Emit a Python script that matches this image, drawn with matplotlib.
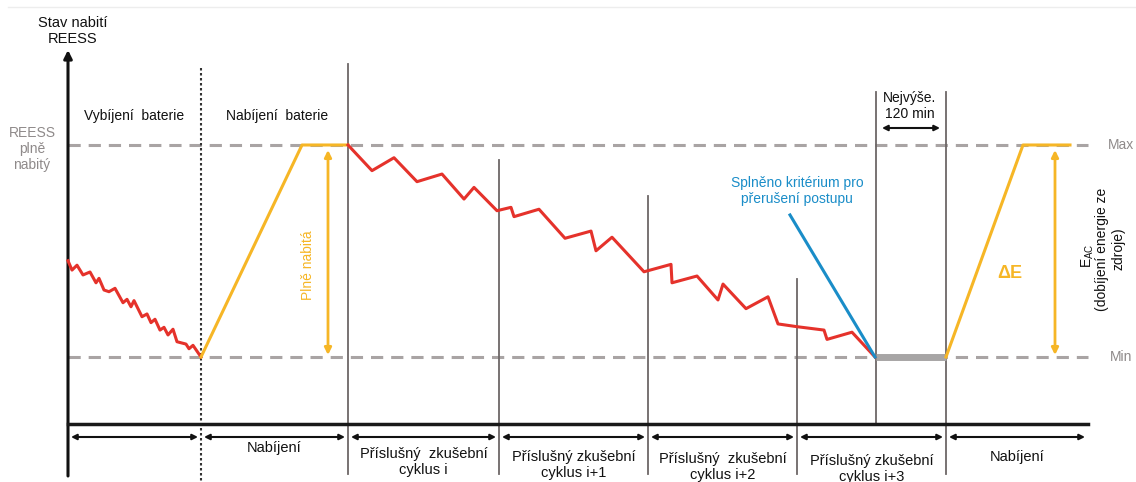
import matplotlib.pyplot as plt

plt.rcParams['font.family'] = ['Liberation Sans', 'DejaVu Sans']

# time axis in arbitrary units, state of charge: 0 = Min, 100 = Max
dis_t = [0, 4, 9, 15, 22, 28, 31, 36, 41, 47, 55, 59, 63, 66, 74, 79, 83, 87,
         92, 96, 100, 105, 109, 118, 121, 125, 133]
dis_soc = [45.4, 41.0, 43.3, 38.7, 40.1, 35.0, 37.1, 31.6, 30.8, 32.4, 25.6,
           27.2, 23.7, 26.6, 19.0, 20.3, 16.2, 17.8, 12.7, 14.0, 10.4, 13.1,
           7.2, 6.1, 3.9, 5.5, 0]

chg1_t = [133, 234, 280]
chg1_soc = [0, 100, 100]

cyc_t = [280, 304, 326, 349, 374, 396, 406, 429, 443, 446, 471, 497, 523, 528,
         544, 576, 603, 604, 629, 650, 655, 678, 700, 710, 729, 756, 759, 784, 807]
cyc_soc = [100, 87.9, 94.0, 82.7, 86.3, 74.5, 80.0, 69.0, 70.6, 66.2, 69.7,
           56.0, 59.4, 50.1, 56.5, 40.2, 43.7, 35.0, 38.2, 26.9, 34.4, 22.8,
           28.4, 15.6, 14.3, 12.7, 8.3, 11.7, 0]

rest_t = [808, 878]
rest_soc = [0, 0]

chg2_t = [878, 955, 1002]
chg2_soc = [0, 100, 100]

crit_t = [722, 807]
crit_soc = [67, 0]

# phase boundaries (time) and the level where each line starts
bounds = [280, 431, 580, 729, 808, 878]
bound_top = [138, 93, 76, 37, 125, 125]

seg_edges = [0, 133, 280, 431, 580, 729, 878, 1020]
seg_labels = ['', 'Nabíjení', 'Příslušný  zkušební\ncyklus i',
              'Příslušný zkušební\ncyklus i+1', 'Příslušný  zkušební\ncyklus i+2',
              'Příslušný zkušební\ncyklus i+3', 'Nabíjení']

RED = '#e5322b'
YEL = '#f6b626'
BLUE = '#1a8dc8'
GRAY = '#a9a4a4'
LGRAY = '#8f8a8a'
NARROW = ['Liberation Sans Narrow', 'Liberation Sans', 'DejaVu Sans']


# layout helpers: picture pixel -> data
def X(px):
    return px - 68


def Y(py):
    return (357 - py) / 2.12


fig = plt.figure(figsize=(11.36, 4.82), dpi=100)
ax = fig.add_axes([0, 0, 1, 1])
ax.set_xlim(X(0), X(1136))
ax.set_ylim(Y(482), Y(0))
ax.axis('off')

# faint frame line at top
ax.plot([X(8), X(1136)], [Y(7), Y(7)], color='#ededed', lw=1)

# Max / Min reference lines
for lvl in (100, 0):
    ax.plot([0, X(1088)], [lvl, lvl], color=GRAY, lw=2.2, ls=(0, (4, 2.6)), zorder=1)

# axes
ax.annotate('', xy=(0, Y(50)), xytext=(0, Y(476)),
            arrowprops=dict(arrowstyle='-|>', lw=2.2, color='#111111',
                            mutation_scale=12, shrinkA=0, shrinkB=0))
ax.plot([0, X(1088)], [Y(424), Y(424)], color='#1a1a1a', lw=2.5, zorder=3)

# phase boundaries
ax.plot([133, 133], [Y(68), Y(481)], color='#333333', lw=1.5, ls=(0, (1.2, 1.2)))
for b, top in zip(bounds, bound_top):
    bottom = Y(424) if b == 808 else Y(474)
    ax.plot([b, b], [top, bottom], color='#6d6767', lw=1.3, zorder=2)

# curves
ax.plot(dis_t, dis_soc, color=RED, lw=2.2, zorder=4)
ax.plot(chg1_t, chg1_soc, color=YEL, lw=2.2, zorder=4)
ax.plot(cyc_t, cyc_soc, color=RED, lw=2.2, zorder=4)
ax.plot(rest_t, rest_soc, color='#a7a5a5', lw=5, solid_capstyle='butt', zorder=4)
ax.plot(chg2_t, chg2_soc, color=YEL, lw=2.2, zorder=4)
ax.plot(crit_t, crit_soc, color=BLUE, lw=2.2, zorder=5)

# yellow double arrows
for xa in (X(328), X(1055)):
    ax.annotate('', xy=(xa, Y(150)), xytext=(xa, Y(355)),
                arrowprops=dict(arrowstyle='<|-|>', lw=2, color=YEL,
                                mutation_scale=10, shrinkA=0, shrinkB=0))

# bottom phase arrows and labels
label_y = [448, 448, 462, 465, 467, 469, 457]
for i in range(len(seg_edges) - 1):
    a, b = seg_edges[i], seg_edges[i + 1]
    ax.annotate('', xy=(a + 3, Y(437)), xytext=(b - 3, Y(437)),
                arrowprops=dict(arrowstyle='<|-|>', lw=1.5, color='#111111',
                                mutation_scale=8, shrinkA=0, shrinkB=0))
    if seg_labels[i]:
        ax.text((a + b) / 2, Y(label_y[i]), seg_labels[i], ha='center', va='center',
                fontsize=10.5, family=NARROW, linespacing=1.2, color='#111111')

# texts
ax.text(X(73), Y(31), 'Stav nabití\nREESS', ha='center', va='center', fontsize=10.5,
        family=NARROW, linespacing=1.25, color='#111111')
ax.text(X(32), Y(149), 'REESS\nplně\nnabitý', ha='center', va='center', fontsize=10,
        color=LGRAY, linespacing=1.2)
ax.text(X(134), Y(116), 'Vybíjení  baterie', ha='center', va='center', fontsize=10,
        color='#111111')
ax.text(X(277), Y(116), 'Nabíjení  baterie', ha='center', va='center', fontsize=10,
        color='#111111')
ax.text(X(308), Y(265), 'Plně nabitá', ha='center', va='center', rotation=90,
        fontsize=10, color=YEL)
ax.text(X(797), Y(191), 'Splněno kritérium pro\npřerušení postupu', ha='center',
        va='center', fontsize=10, color=BLUE, linespacing=1.25)
ax.text(X(910), Y(106), 'Nejvýše.\n120 min', ha='center', va='center', fontsize=10,
        color='#111111', linespacing=1.2)
ax.annotate('', xy=(X(882), Y(128)), xytext=(X(940), Y(128)),
            arrowprops=dict(arrowstyle='<|-|>', lw=1.5, color='#111111',
                            mutation_scale=8, shrinkA=0, shrinkB=0))
ax.text(X(1010), Y(273), 'ΔE', ha='center', va='center', fontsize=13,
        fontweight='bold', color=YEL)
ax.text(X(1088), Y(256), r'$\mathregular{E_{AC}}$', ha='center', va='center',
        rotation=90, fontsize=10, color='#111111')
ax.text(X(1102), Y(249), '(dobíjení energie ze', ha='center', va='center',
        rotation=90, fontsize=10, color='#111111')
ax.text(X(1118), Y(249), 'zdroje)', ha='center', va='center',
        rotation=90, fontsize=10, color='#111111')
ax.text(X(1121), Y(145), 'Max', ha='center', va='center', fontsize=10, color=LGRAY)
ax.text(X(1121), Y(357), 'Min', ha='center', va='center', fontsize=10, color=LGRAY)

fig.savefig('out.png', dpi=100)
